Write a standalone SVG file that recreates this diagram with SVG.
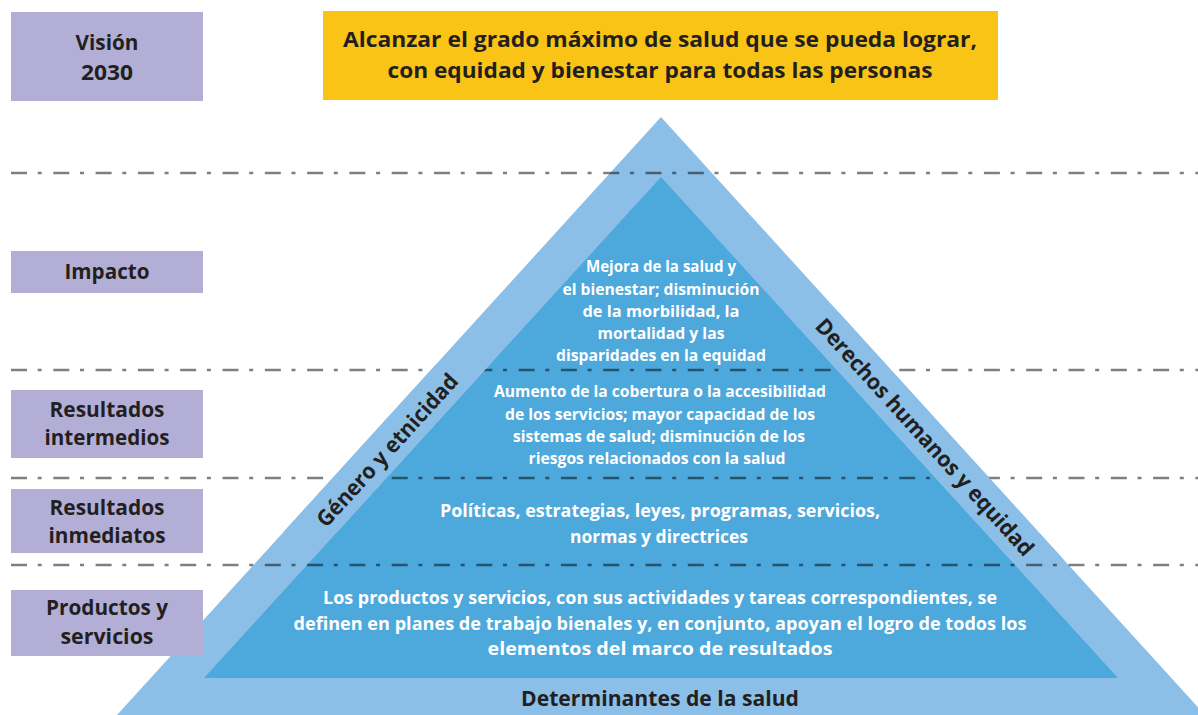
<svg xmlns="http://www.w3.org/2000/svg" width="1198" height="715" viewBox="0 0 1198 715">
<style>
.lbl{fill:#b3aed6}
.t{font-family:"Open Sans","Noto Sans","Liberation Sans",sans-serif;font-weight:700;text-anchor:middle}
.dk{fill:#231f20}
.wh{fill:#ffffff}
.sep{stroke:#000;stroke-opacity:0.5;stroke-width:2.7;stroke-dasharray:16 10.7 4 11.6;fill:none}
.band{fill:#8cbfe7}
.core{fill:#4da8dc}
</style>
<rect width="1198" height="715" fill="#ffffff"/>
<g id="pyramid">
<polygon class="band" points="661,117 117,715 1205,715"/>
<polygon class="core" points="661,177 204,678 1118,678"/>
</g>
<g id="connectors">
<line class="sep" x1="11" y1="173" x2="1198" y2="173"/>
<line class="sep" x1="11" y1="370" x2="1198" y2="370"/>
<line class="sep" x1="11" y1="478" x2="1198" y2="478"/>
<line class="sep" x1="11" y1="565" x2="1198" y2="565"/>
</g>
<g id="vision">
<rect class="lbl" x="11" y="12" width="192" height="89"/>
<text class="t dk" x="107" y="50" font-size="21" textLength="63" lengthAdjust="spacingAndGlyphs">Visión</text>
<text class="t dk" x="107" y="80" font-size="21" textLength="52" lengthAdjust="spacingAndGlyphs">2030</text>
</g>
<g id="goal">
<rect x="323" y="11" width="675" height="89" fill="#f9c416"/>
<text class="t dk" x="660" y="47" font-size="22" textLength="634" lengthAdjust="spacingAndGlyphs">Alcanzar el grado máximo de salud que se pueda lograr,</text>
<text class="t dk" x="660" y="78" font-size="22" textLength="545" lengthAdjust="spacingAndGlyphs">con equidad y bienestar para todas las personas</text>
</g>
<g id="impacto">
<rect class="lbl" x="11" y="251" width="192" height="42"/>
<text class="t dk" x="107" y="279" font-size="21" textLength="85" lengthAdjust="spacingAndGlyphs">Impacto</text>
<text class="t wh" x="661" y="272" font-size="16" textLength="150" lengthAdjust="spacingAndGlyphs">Mejora de la salud y</text>
<text class="t wh" x="661" y="295" font-size="16" textLength="197" lengthAdjust="spacingAndGlyphs">el bienestar; disminución</text>
<text class="t wh" x="661" y="317" font-size="16" textLength="157" lengthAdjust="spacingAndGlyphs">de la morbilidad, la</text>
<text class="t wh" x="661" y="339" font-size="16" textLength="127" lengthAdjust="spacingAndGlyphs">mortalidad y las</text>
<text class="t wh" x="661" y="361" font-size="16" textLength="210" lengthAdjust="spacingAndGlyphs">disparidades en la equidad</text>
</g>
<g id="intermedios">
<rect class="lbl" x="11" y="390" width="192" height="68"/>
<text class="t dk" x="107" y="417" font-size="21" textLength="115" lengthAdjust="spacingAndGlyphs">Resultados</text>
<text class="t dk" x="107" y="445" font-size="21" textLength="125" lengthAdjust="spacingAndGlyphs">intermedios</text>
<text class="t wh" x="660" y="397" font-size="16.5" textLength="332" lengthAdjust="spacingAndGlyphs">Aumento de la cobertura o la accesibilidad</text>
<text class="t wh" x="660" y="420" font-size="16.5" textLength="310" lengthAdjust="spacingAndGlyphs">de los servicios; mayor capacidad de los</text>
<text class="t wh" x="659" y="442" font-size="16.5" textLength="292" lengthAdjust="spacingAndGlyphs">sistemas de salud; disminución de los</text>
<text class="t wh" x="657" y="464" font-size="16.5" textLength="257" lengthAdjust="spacingAndGlyphs">riesgos relacionados con la salud</text>
</g>
<g id="inmediatos">
<rect class="lbl" x="11" y="489" width="192" height="64"/>
<text class="t dk" x="107" y="515" font-size="21" textLength="115" lengthAdjust="spacingAndGlyphs">Resultados</text>
<text class="t dk" x="107" y="543" font-size="21" textLength="117" lengthAdjust="spacingAndGlyphs">inmediatos</text>
<text class="t wh" x="660" y="517" font-size="18" textLength="440" lengthAdjust="spacingAndGlyphs">Políticas, estrategias, leyes, programas, servicios,</text>
<text class="t wh" x="659" y="543" font-size="18" textLength="178" lengthAdjust="spacingAndGlyphs">normas y directrices</text>
</g>
<g id="productos">
<rect class="lbl" x="11" y="590" width="192" height="66"/>
<text class="t dk" x="107" y="615" font-size="21" textLength="122" lengthAdjust="spacingAndGlyphs">Productos y</text>
<text class="t dk" x="107" y="644" font-size="21" textLength="93" lengthAdjust="spacingAndGlyphs">servicios</text>
<text class="t wh" x="660" y="604" font-size="18" textLength="674" lengthAdjust="spacingAndGlyphs">Los productos y servicios, con sus actividades y tareas correspondientes, se</text>
<text class="t wh" x="660" y="630" font-size="18" textLength="733" lengthAdjust="spacingAndGlyphs">definen en planes de trabajo bienales y, en conjunto, apoyan el logro de todos los</text>
<text class="t wh" x="660" y="655" font-size="18" textLength="345" lengthAdjust="spacingAndGlyphs">elementos del marco de resultados</text>
</g>
<g id="determinantes">
<text class="t dk" x="660" y="706" font-size="21" textLength="278" lengthAdjust="spacingAndGlyphs">Determinantes de la salud</text>
</g>
<g id="genero">
<polygon class="band" points="435.4,365 489.5,365 337.2,532 283.5,532"/>
<text class="t dk" transform="translate(387,450) rotate(-47.7)" x="0" y="8" font-size="22" textLength="198" lengthAdjust="spacingAndGlyphs">Género y etnicidad</text>
</g>
<g id="derechos">
<polygon class="band" points="784.1,312 838.4,312 1062.2,558 1008.5,558"/>
<text class="t dk" transform="translate(925,437) rotate(47.7)" x="0" y="8" font-size="22" textLength="312" lengthAdjust="spacingAndGlyphs">Derechos humanos y equidad</text>
</g>
</svg>
